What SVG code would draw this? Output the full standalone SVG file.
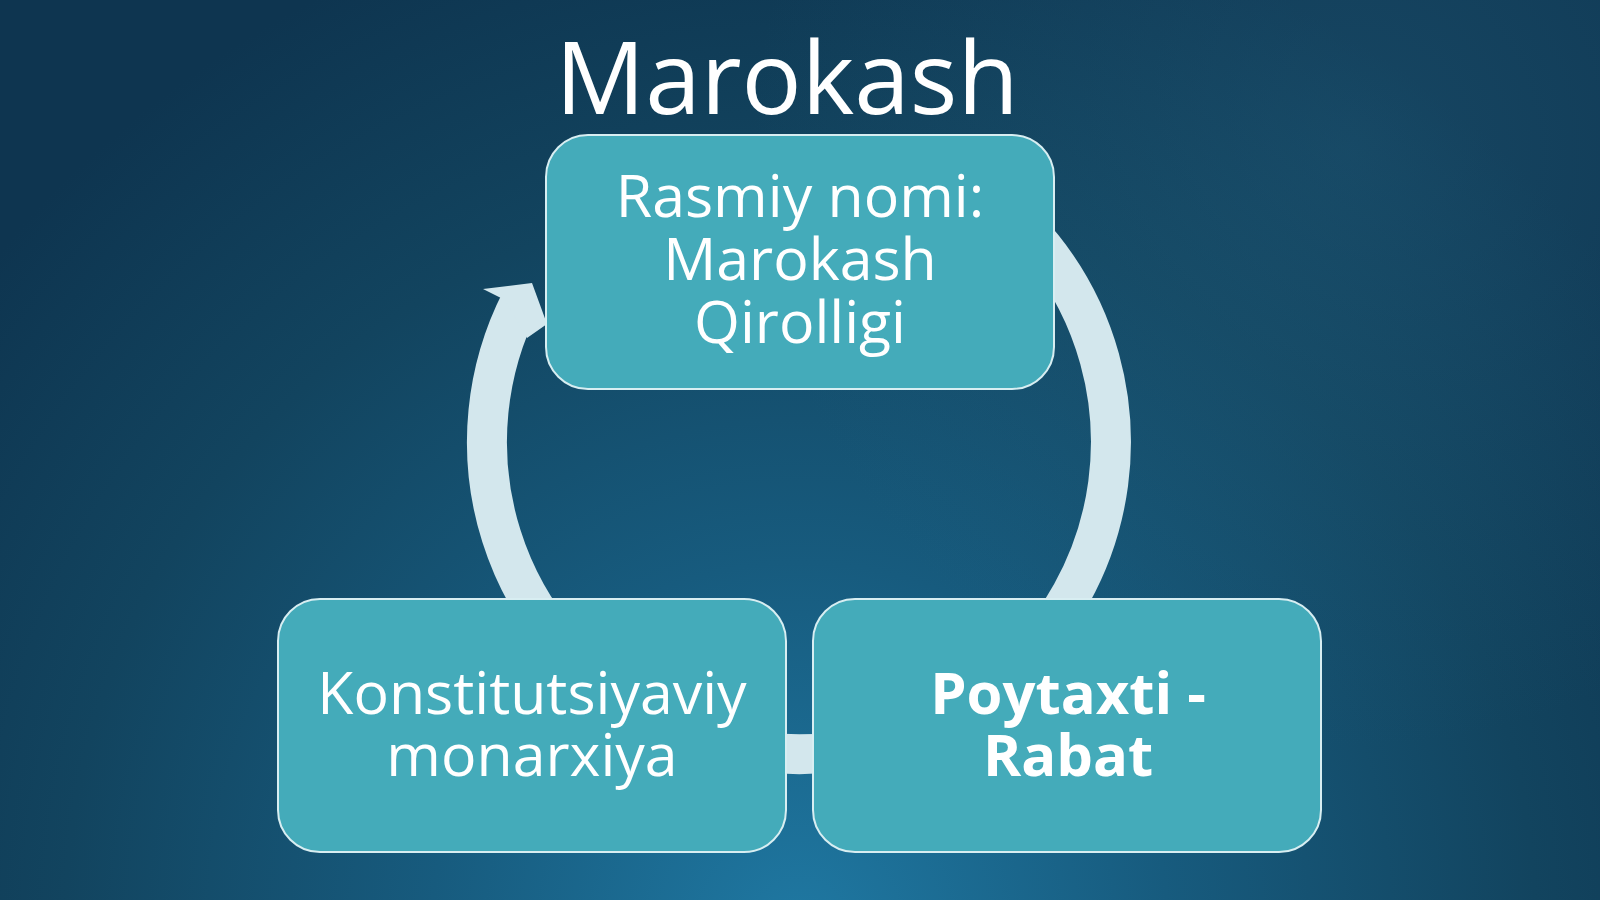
<svg xmlns="http://www.w3.org/2000/svg" width="1600" height="900" viewBox="0 0 1600 900">
<defs>
<radialGradient id="bg" cx="800" cy="930" r="1050" gradientUnits="userSpaceOnUse">
<stop offset="0" stop-color="#1f78a2"/>
<stop offset="0.35" stop-color="#175b7e"/>
<stop offset="0.7" stop-color="#12445f"/>
<stop offset="1" stop-color="#0e3550"/>
</radialGradient>
<radialGradient id="glow" cx="1350" cy="150" r="600" gradientUnits="userSpaceOnUse">
<stop offset="0" stop-color="#2a6f8f" stop-opacity="0.3"/>
<stop offset="1" stop-color="#2a6f8f" stop-opacity="0"/>
</radialGradient>
<style>
.box{fill:#44abba;stroke:#d8eef2;stroke-width:2}
.txt{font-family:"Open Sans","Noto Sans","Liberation Sans",sans-serif;font-size:59px;fill:#ffffff;text-anchor:middle}
.bold{font-weight:bold;font-size:58px}
.arc{fill:none;stroke:#d3e7ed;stroke-width:40}
.head{fill:#d3e7ed}
</style>
</defs>
<rect x="0" y="0" width="1600" height="900" fill="url(#bg)"/>
<rect x="0" y="0" width="1600" height="900" fill="url(#glow)"/>
<text id="title" x="787" y="114" font-family="'Open Sans','Noto Sans','Liberation Sans',sans-serif" font-size="100" fill="#ffffff" text-anchor="middle">Marokash</text>
<g id="connectors">
<path class="arc" d="M 955 172 A 312 312 0 1 1 521 300.4"/>
<polygon class="head" points="483,289 532,283 547,324 527,338 505,300"/>
</g>
<g id="node-top">
<rect class="box" x="546" y="135" width="508" height="254" rx="42"/>
<text class="txt" x="800" y="217">Rasmiy nomi:</text>
<text class="txt" x="800" y="280">Marokash</text>
<text class="txt" x="800" y="343">Qirolligi</text>
</g>
<g id="node-left">
<rect class="box" x="278" y="599" width="508" height="253" rx="42"/>
<text class="txt" x="532" y="714">Konstitutsiyaviy</text>
<text class="txt" x="532" y="776">monarxiya</text>
</g>
<g id="node-right">
<rect class="box" x="813" y="599" width="508" height="253" rx="42"/>
<text class="txt bold" x="1068" y="714">Poytaxti -</text>
<text class="txt bold" x="1068" y="776">Rabat</text>
</g>
</svg>
